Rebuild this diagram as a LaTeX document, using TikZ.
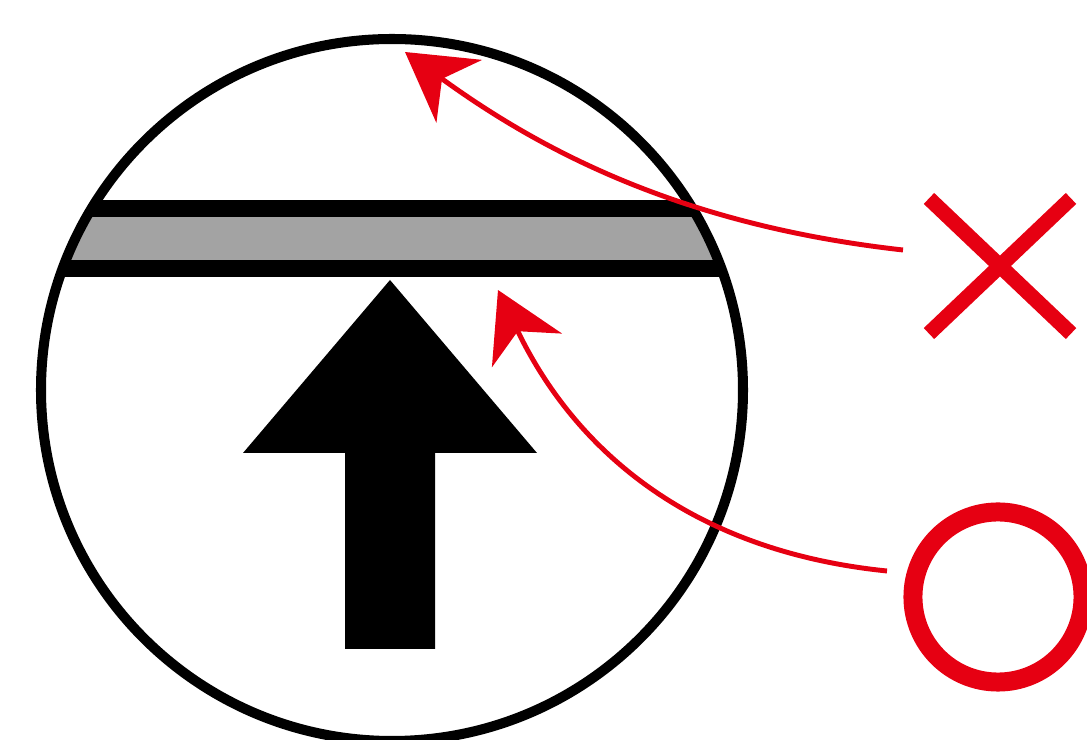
\documentclass[tikz,border=0pt]{standalone}
\usetikzlibrary{arrows.meta,shapes.misc}
\definecolor{markred}{RGB}{230,0,18}
\definecolor{bargray}{RGB}{163,163,163}
\begin{document}
\begin{tikzpicture}[x=0.01cm, y=-0.01cm, >={Stealth[length=19pt,width=22pt,inset=6pt]}]
  \tikzset{pointer/.style={->, draw=markred, line width=1.4pt},
           sign/.style={draw=markred, inner sep=0pt, outer sep=0pt}}
  \useasboundingbox (0,0) rectangle (1087,740);
  % plate across the circle
  \begin{scope}
    \clip (392,390) circle (351);
    \fill (0,200) rectangle (1087,277);
    \fill[bargray] (0,217) rectangle (1087,260);
  \end{scope}
  \draw[line width=2.85pt] (392,390) circle (351);
  \fill (390,280) -- (537,453) -- (435,453) -- (435,649) -- (345,649)
        -- (345,453) -- (243,453) -- cycle;
  % marks
  \node[sign, cross out, line width=4.3pt, minimum width=1.42cm, minimum height=1.35cm] (cross) at (1000,266) {};
  \node[sign, circle, line width=5.4pt, minimum size=1.7cm] (ring) at (998,597) {};
  \coordinate (crossend) at (903,250);
  \coordinate (ringend) at (887,571);
  \coordinate (rimtop) at (405,52);
  \coordinate (platebottom) at (498,290);
  \draw[pointer] (crossend) .. controls (680,225) and (540,150) .. (rimtop);
  \draw[pointer] (ringend) .. controls (680,550) and (570,440) .. (platebottom);
\end{tikzpicture}
\end{document}
